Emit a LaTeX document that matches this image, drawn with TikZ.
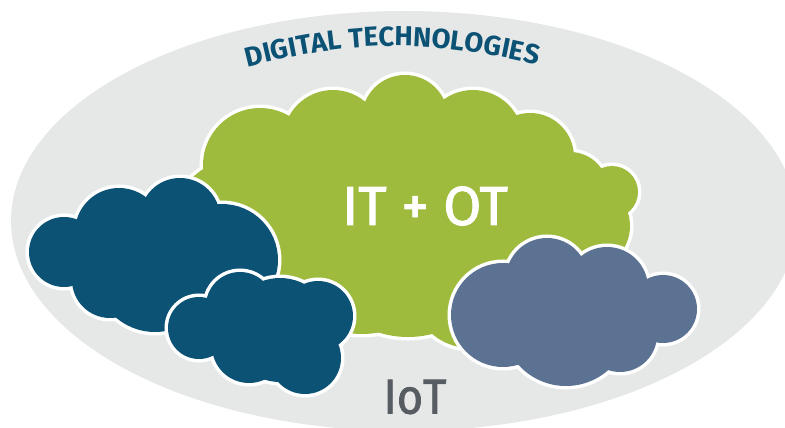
\documentclass[tikz,border=0pt]{standalone}
\usepackage{fontspec}
\setmainfont{Fira Sans}
\newfontfamily\medfont[FakeBold=1.6]{Fira Sans}
\usetikzlibrary{decorations.text}
\definecolor{ovalgrey}{HTML}{E6E8E8}
\definecolor{cloudgreen}{HTML}{9FBB3D}
\definecolor{clouddark}{HTML}{0B5275}
\definecolor{cloudblue}{HTML}{5B7292}
\definecolor{labelgrey}{HTML}{575C63}
\newcommand{\cloudlobes}[2]{%
  \foreach \cx/\cy/\cr in {#2} {\draw[white,line width=7pt] (\cx,\cy) circle[radius=\cr];}%
  \foreach \cx/\cy/\cr in {#2} {\fill[#1] (\cx,\cy) circle[radius=\cr];}%
}
\begin{document}
\begin{tikzpicture}[x=1pt,y=-1pt]
\useasboundingbox (0,0) rectangle (785,428);
\clip (0,0) rectangle (785,428);
\fill[ovalgrey] (404,221) ellipse[x radius=393,y radius=210];
% green cloud
\cloudlobes{cloudgreen}{405/118/43,333/140/50,260/165/57,473/140/50,530/157/44,570/190/38,612/192/26,586/226/44,408/240/97,470/290/58,362/243/91,250/240/85,400/220/110,500/220/75}
% big dark cloud
\cloudlobes{clouddark}{64/252/35,119/232/44,180/218/40,222/260/56,110/280/38,155/272/60}
% small dark cloud
\cloudlobes{clouddark}{199/328/31,240/306/34,280/330/52,318/316/35,305/358/36,249/346/37}
% blue cloud
\cloudlobes{cloudblue}{503/315/52,547/279/41,607/288/41,663/309/34,620/335/37,566/322/64}
\node[text=white,font=\medfont\fontsize{55}{55}\selectfont,inner sep=0pt] (itot) at (425,206) {IT + OT};
\node[text=labelgrey,font=\medfont\fontsize{49}{49}\selectfont,inner sep=0pt,xscale=.92] (iot) at (415,397) {IoT};
\coordinate (arcl) at (244,68);
\coordinate (arcr) at (541,66);
\path[decorate,decoration={text along path,text align=center,
  text={|\fontsize{27.5}{27.5}\selectfont\bfseries\color{clouddark}|DIGITAL TECHNOLOGIES}}]
  (arcl) to[bend left=14] (arcr);
\end{tikzpicture}
\end{document}
